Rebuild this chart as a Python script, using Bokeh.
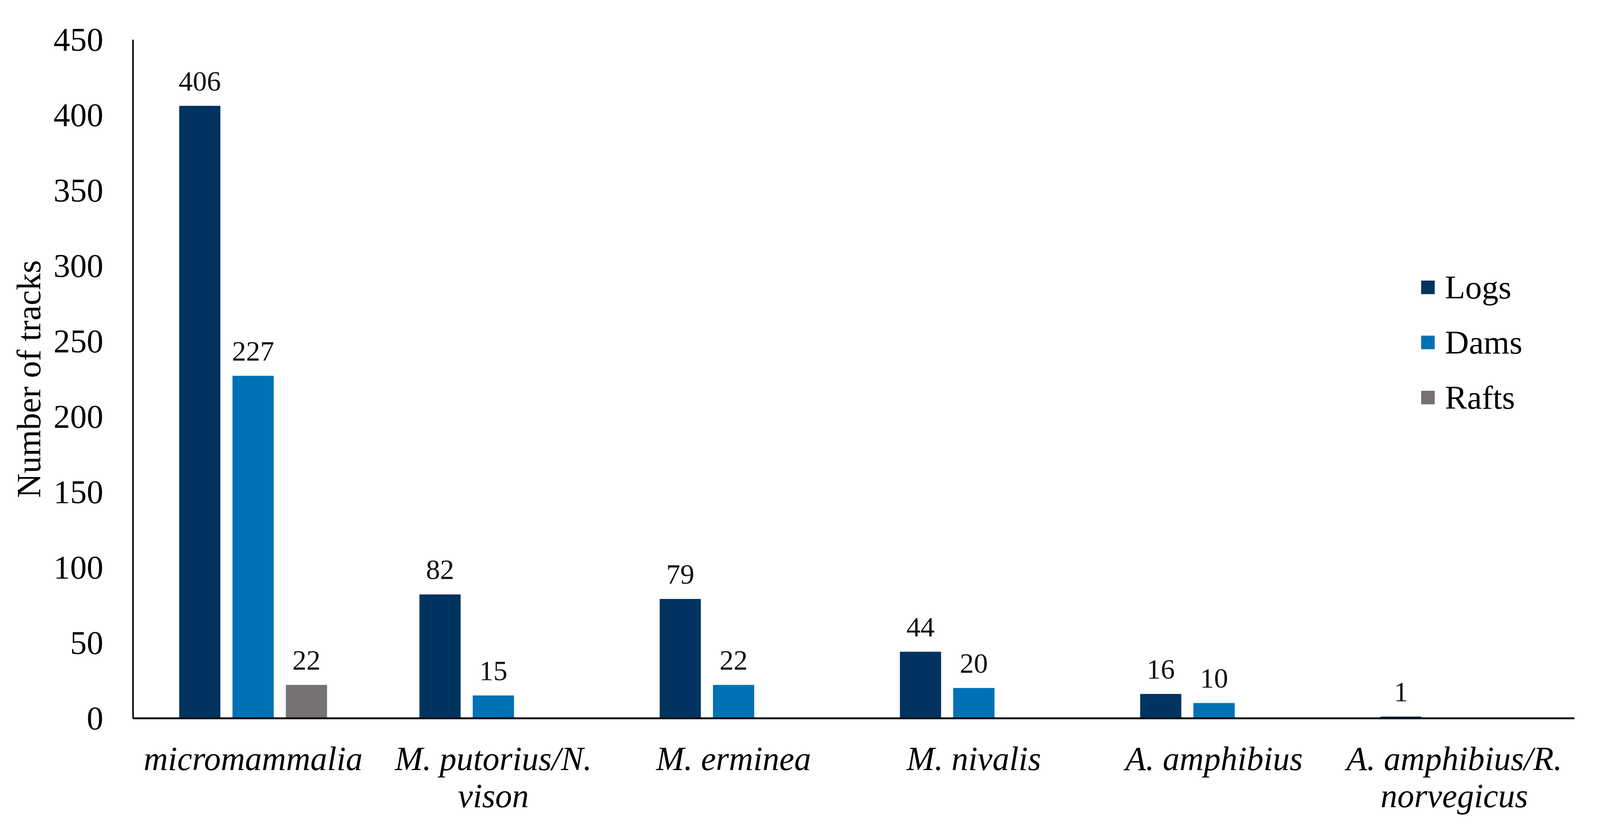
from bokeh.plotting import figure
from bokeh.models import (ColumnDataSource, FactorRange, Range1d, FixedTicker,
                          Legend, LegendItem)
from bokeh.transform import dodge
from bokeh.core.properties import value
from bokeh.embed import file_html
from bokeh.resources import INLINE

# ---- data ----
categories = ["micromammalia", "M. putorius/N.\nvison", "M. erminea",
              "M. nivalis", "A. amphibius", "A. amphibius/R.\nnorvegicus"]
series_names = ["Logs", "Dams", "Rafts"]
logs = [406, 82, 79, 44, 16, 1]
dams = [227, 15, 22, 20, 10, 0]
rafts = [22, 0, 0, 0, 0, 0]
y_ticks = [0, 50, 100, 150, 200, 250, 300, 350, 400, 450]
y_label = "Number of tracks"

colors = ["#00335F", "#0071B6", "#767272"]
offsets = [-0.222, 0.0, 0.222]
series_values = [logs, dams, rafts]

FONT = "Liberation Serif"

p = figure(width=4135, height=2134, output_backend="svg", toolbar_location=None,
           x_range=FactorRange(*categories), y_range=Range1d(0, 450),
           min_border_left=340, min_border_right=105, min_border_top=101,
           min_border_bottom=296)
p.outline_line_color = None
p.xgrid.grid_line_color = None
p.ygrid.grid_line_color = None
p.background_fill_color = "white"
p.border_fill_color = "white"

items = []
for name, vals, col, off in zip(series_names, series_values, colors, offsets):
    cats = [c for c, v in zip(categories, vals) if v > 0]
    vs = [v for v in vals if v > 0]
    src = ColumnDataSource(dict(cat=cats, v=vs, lbl=[str(v) for v in vs]))
    r = p.vbar(x=dodge("cat", off, range=p.x_range), top="v", width=0.17,
               source=src, fill_color=col, line_color=col)
    p.text(x=dodge("cat", off, range=p.x_range), y="v", text="lbl", source=src,
           text_font=value(FONT), text_font_size="72px", text_color="#111111",
           text_align="center", text_baseline="alphabetic", y_offset=-63)
    items.append(LegendItem(label=name, renderers=[r]))

legend = Legend(items=items, location=(3294, 772), orientation="vertical",
                glyph_width=42, glyph_height=42, label_standoff=23,
                label_text_font=FONT, label_text_font_size="85px",
                label_text_color="#000000", spacing=43, padding=0, margin=0,
                border_line_color=None, background_fill_alpha=0)
p.add_layout(legend)

# y axis
p.yaxis.ticker = FixedTicker(ticks=y_ticks)
p.yaxis.axis_label = y_label
p.yaxis.axis_label_text_font = FONT
p.yaxis.axis_label_text_font_style = "normal"
p.yaxis.axis_label_text_font_size = "87px"
p.yaxis.axis_label_text_color = "#000000"
p.yaxis.axis_label_standoff = 12
p.yaxis.major_label_text_font = FONT
p.yaxis.major_label_text_font_size = "85px"
p.yaxis.major_label_text_color = "#000000"
p.yaxis.major_label_standoff = 76
p.yaxis.major_tick_line_color = None
p.yaxis.minor_tick_line_color = None
p.yaxis.major_tick_out = 0
p.yaxis.major_tick_in = 0
p.yaxis.axis_line_color = "#000000"
p.yaxis.axis_line_width = 4

# x axis
p.xaxis.major_label_text_font = FONT
p.xaxis.major_label_text_font_style = "italic"
p.xaxis.major_label_text_font_size = "86px"
p.xaxis.major_label_text_line_height = 0.99
p.xaxis.major_label_text_color = "#000000"
p.xaxis.major_label_standoff = 55
p.xaxis.major_tick_line_color = None
p.xaxis.minor_tick_line_color = None
p.xaxis.major_tick_out = 0
p.xaxis.major_tick_in = 0
p.xaxis.axis_line_color = "#111111"
p.xaxis.axis_line_width = 5

open("out.html", "w").write(file_html(p, INLINE))
